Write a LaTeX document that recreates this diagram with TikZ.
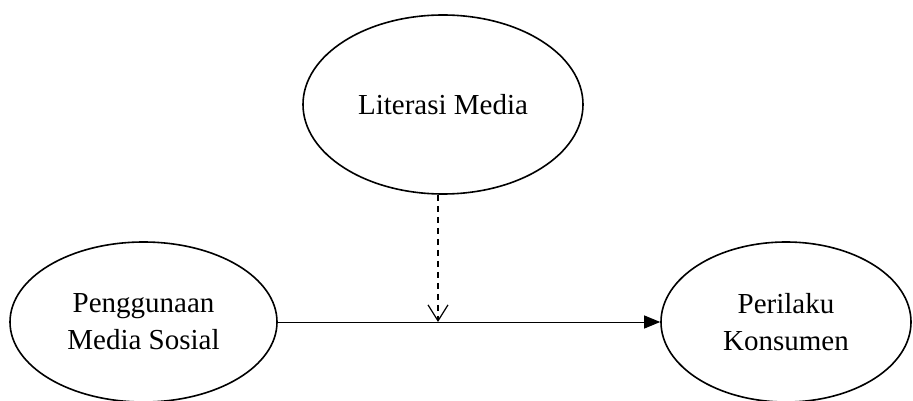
\documentclass[tikz,border=0pt]{standalone}
\usepackage{fontspec}
\setmainfont{Liberation Serif}
\usetikzlibrary{shapes.geometric,arrows.meta}
\begin{document}
\begin{tikzpicture}[x=1pt,y=-1pt,
  var/.style={draw,ellipse,line width=1.6pt,inner sep=0pt,align=center,
    font=\fontsize{29}{37}\selectfont},
  link/.style={line width=1pt}]
\useasboundingbox (0,0) rectangle (913,401);
\node[var,minimum width=280pt,minimum height=179pt] (lm) at (443,104.5) {Literasi Media};
\node[var,minimum width=267pt,minimum height=160pt] (ps) at (143.5,322) {Penggunaan\\Media Sosial};
\node[var,minimum width=250pt,minimum height=160pt] (pk) at (786,322) {Perilaku\\Konsumen};
\draw[link,-{Triangle[length=16pt,width=13pt]}] (ps.east) -- (pk.west);
\coordinate (m) at (438,322);
\draw[line width=1.3pt,dash pattern=on 6.5pt off 4.5pt,-{Straight Barb[length=16pt,width=20pt,line width=1.2pt]}] (m |- lm.south) -- (m);
\end{tikzpicture}
\end{document}
